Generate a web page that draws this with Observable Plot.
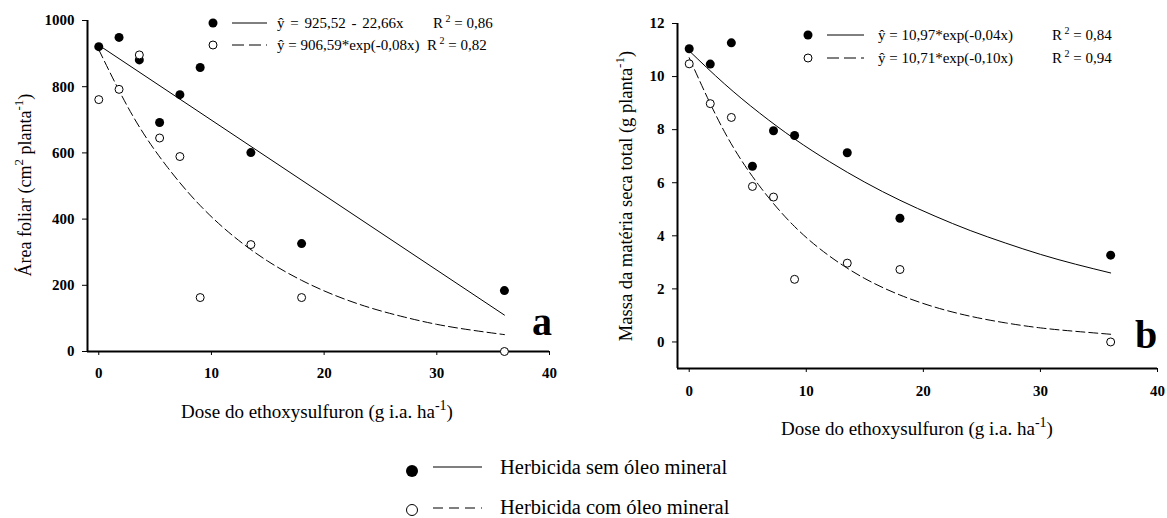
<!DOCTYPE html>
<html>
<head>
<meta charset="utf-8">
<script src="https://cdn.jsdelivr.net/npm/d3@7"></script>
<script src="https://cdn.jsdelivr.net/npm/@observablehq/plot@0.6"></script>
<style>
  html, body { margin: 0; padding: 0; background: #fff; }
  #wrap { position: relative; width: 1167px; height: 518px; overflow: hidden; font-family: "Liberation Serif", "Times New Roman", serif; }
  #wrap > .panel { position: absolute; top: 0; }
  #overlay { position: absolute; left: 0; top: 0; pointer-events: none; }
  #overlay text { font-family: "Liberation Serif", "Times New Roman", serif; fill: #000; }
</style>
</head>
<body>
<div id="wrap">
  <div class="panel" id="panelA" style="left:0px"></div>
  <div class="panel" id="panelB" style="left:590px"></div>
  <svg id="overlay" width="1167" height="518" xmlns="http://www.w3.org/2000/svg">
    <!-- panel a in-chart legend -->
    <circle cx="213" cy="23" r="4.5" fill="#000"/>
    <line x1="232" y1="23" x2="267" y2="23" stroke="#000" stroke-width="1"/>
    <text x="277" y="28" font-size="15" word-spacing="2">ŷ = 925,52 - 22,66x</text>
    <text x="433" y="28" font-size="15">R<tspan dy="-6" font-size="10"> 2</tspan><tspan dy="6"> = 0,86</tspan></text>
    <circle cx="213" cy="45" r="4" fill="#fff" stroke="#000" stroke-width="1"/>
    <line x1="232" y1="45" x2="267" y2="45" stroke="#000" stroke-width="1" stroke-dasharray="12,5"/>
    <text x="277" y="50" font-size="15">ŷ = 906,59*exp(-0,08x)</text>
    <text x="427" y="50" font-size="15">R<tspan dy="-6" font-size="10"> 2</tspan><tspan dy="6"> = 0,82</tspan></text>
    <!-- panel b in-chart legend -->
    <circle cx="808" cy="35" r="4.5" fill="#000"/>
    <line x1="827" y1="35" x2="864" y2="35" stroke="#000" stroke-width="1"/>
    <text x="878" y="40" font-size="15">ŷ = 10,97*exp(-0,04x)</text>
    <text x="1052" y="40" font-size="15">R<tspan dy="-6" font-size="10"> 2</tspan><tspan dy="6"> = 0,84</tspan></text>
    <circle cx="808" cy="58" r="4" fill="#fff" stroke="#000" stroke-width="1"/>
    <line x1="827" y1="58" x2="864" y2="58" stroke="#000" stroke-width="1" stroke-dasharray="12,5"/>
    <text x="878" y="63" font-size="15">ŷ = 10,71*exp(-0,10x)</text>
    <text x="1052" y="63" font-size="15">R<tspan dy="-6" font-size="10"> 2</tspan><tspan dy="6"> = 0,94</tspan></text>
    <!-- axis titles -->
    <text transform="translate(31,185) rotate(-90)" text-anchor="middle" font-size="18">Área foliar (cm<tspan dy="-8" font-size="13">2</tspan><tspan dy="8"> planta</tspan><tspan dy="-8" font-size="13">-1</tspan><tspan dy="8">)</tspan></text>
    <text transform="translate(632,196) rotate(-90)" text-anchor="middle" font-size="18.5">Massa da matéria seca total (g planta<tspan dy="-8" font-size="13">-1</tspan><tspan dy="8">)</tspan></text>
    <text x="317" y="418" text-anchor="middle" font-size="19">Dose do ethoxysulfuron (g i.a. ha<tspan dy="-8" font-size="14">-1</tspan><tspan dy="8">)</tspan></text>
    <text x="917" y="435" text-anchor="middle" font-size="19">Dose do ethoxysulfuron (g i.a. ha<tspan dy="-8" font-size="14">-1</tspan><tspan dy="8">)</tspan></text>
    <!-- panel letters -->
    <text x="532" y="335" font-size="40" font-weight="bold">a</text>
    <text x="1135" y="348" font-size="40" font-weight="bold">b</text>
    <!-- bottom legend -->
    <circle cx="412" cy="471" r="6" fill="#000"/>
    <line x1="433" y1="467" x2="482" y2="467" stroke="#000" stroke-width="1.2"/>
    <text x="500" y="474" font-size="20.5">Herbicida sem óleo mineral</text>
    <circle cx="412" cy="510" r="5.5" fill="#fff" stroke="#000" stroke-width="1"/>
    <line x1="433" y1="508" x2="482" y2="508" stroke="#000" stroke-width="1.2" stroke-dasharray="10,6"/>
    <text x="500" y="514" font-size="20.5">Herbicida com óleo mineral</text>
  </svg>
</div>
<script>
// ---- data ----
const doses = [0, 1.8, 3.6, 5.4, 7.2, 9, 13.5, 18, 36];
// Área foliar (cm2 planta-1)
const areaSem = [921, 949, 881, 692, 776, 858, 601, 326, 184];
const areaCom = [761, 792, 896, 645, 589, 163, 323, 163, 0];
// Massa da matéria seca total (g planta-1)
const massaSem = [11.05, 10.47, 11.27, 6.62, 7.96, 7.78, 7.13, 4.66, 3.27];
const massaCom = [10.48, 8.98, 8.46, 5.86, 5.46, 2.36, 2.97, 2.73, 0];

// fitted curves
const linX = [0, 36];
const areaSemFit = [925.5, 110];
const fitX = [0, 3, 6, 9, 12, 15, 18, 21, 24, 27, 30, 33, 36];
const areaComFit = [912, 713, 561, 441, 347, 273, 215, 169, 133, 105, 82, 65, 51];
const massaSemFit = [10.97, 9.73, 8.63, 7.65, 6.79, 6.02, 5.34, 4.74, 4.20, 3.73, 3.30, 2.93, 2.60];
const massaComFit = [10.71, 7.93, 5.88, 4.35, 3.23, 2.39, 1.77, 1.31, 0.97, 0.72, 0.53, 0.40, 0.29];

// axis settings
const xDomain = [-1, 40];
const xTicks = [0, 10, 20, 30, 40];
const yDomainA = [0, 1000];
const yTicksA = [0, 200, 400, 600, 800, 1000];
const yDomainB = [-1, 12];
const yTicksB = [0, 2, 4, 6, 8, 10, 12];

const rows = (xs, ys) => xs.map((x, i) => ({x, y: ys[i]}));
const style = {fontFamily: '"Liberation Serif", "Times New Roman", serif', fontSize: "15px", fontWeight: "bold", color: "#000", background: "transparent", overflow: "visible"};

function panel({yDomain, yTicks, sem, com, semFit, comFit, semFitX, comFitX, marginTop, marginBottom, xPad, plotW}) {
  return Plot.plot({
    width: 577, height: 440,
    marginLeft: 87, marginRight: 577 - 87 - plotW,
    marginTop, marginBottom,
    x: {domain: xDomain},
    y: {domain: yDomain},
    style,
    marks: [
      Plot.axisY({ticks: yTicks, tickSize: 5, tickPadding: 8, label: null, fontWeight: "bold", tickFormat: d => String(d)}),
      Plot.axisX({ticks: xTicks, tickSize: 4, tickPadding: xPad, label: null, fontWeight: "bold", tickFormat: d => String(d)}),
      Plot.ruleX([xDomain[0]], {y1: yDomain[0], y2: yDomain[1], stroke: "#000", strokeWidth: 2}),
      Plot.ruleY([yDomain[0]], {x1: xDomain[0], x2: xDomain[1], stroke: "#000", strokeWidth: 2}),
      Plot.line(rows(semFitX, semFit), {x: "x", y: "y", stroke: "#000", strokeWidth: 1, curve: "natural"}),
      Plot.line(rows(comFitX, comFit), {x: "x", y: "y", stroke: "#000", strokeWidth: 1, strokeDasharray: "9,4", curve: "natural"}),
      Plot.dot(rows(doses, sem), {x: "x", y: "y", r: 4.5, fill: "#000", stroke: "none"}),
      Plot.dot(rows(doses, com), {x: "x", y: "y", r: 4, fill: "#fff", stroke: "#000", strokeWidth: 1})
    ]
  });
}

document.getElementById("panelA").append(panel({
  yDomain: yDomainA, yTicks: yTicksA, sem: areaSem, com: areaCom,
  semFit: areaSemFit, comFit: areaComFit, semFitX: linX, comFitX: fitX,
  marginTop: 20, marginBottom: 89, xPad: 12, plotW: 462
}));
document.getElementById("panelB").append(panel({
  yDomain: yDomainB, yTicks: yTicksB, sem: massaSem, com: massaCom,
  semFit: massaSemFit, comFit: massaComFit, semFitX: fitX, comFitX: fitX,
  marginTop: 23, marginBottom: 72, xPad: 13, plotW: 480
}));
</script>
</body>
</html>
